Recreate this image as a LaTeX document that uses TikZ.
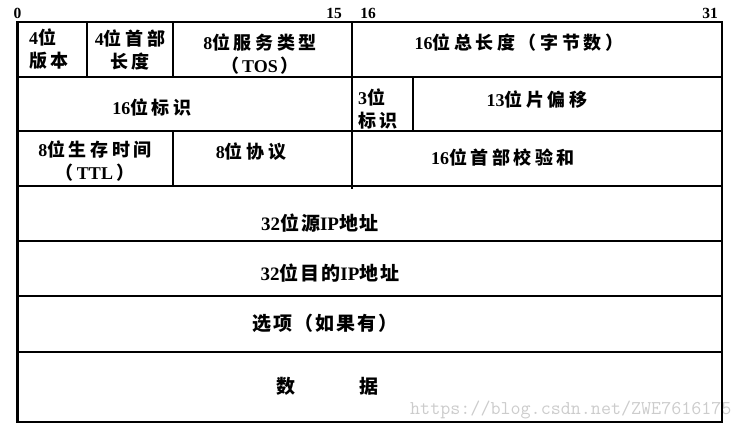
\documentclass[tikz,border=0pt]{standalone}
\usepackage{fontspec}
\setmainfont{Liberation Serif}
\newfontfamily\cjk{Noto Sans CJK SC}[LetterSpace=20]
\newfontfamily\cjkn{Noto Sans CJK SC}[LetterSpace=10]
\newfontfamily\lat{Liberation Serif}
\newcommand\LL[1]{{\lat #1}}
\begin{document}
\begin{tikzpicture}[x=1pt,y=-1pt,
  grid/.style={line width=2.5pt,draw=black},
  txt/.style={inner sep=0pt,align=center,font={\cjk\bfseries\fontsize{18}{23}\selectfont}},
  txtn/.style={inner sep=0pt,align=center,font={\cjkn\bfseries\fontsize{19}{23}\selectfont}},
  bitno/.style={inner sep=0pt,font={\lat\bfseries\fontsize{15.5}{15}\selectfont}},
  wmark/.style={inner sep=0pt,anchor=west,text=black!20,font={\ttfamily\fontsize{19.5}{19}\selectfont}}]
\useasboundingbox (0,0) rectangle (741,432);
% watermark (under the frame)
\node[wmark] (wm) at (410,410) {https://blog.csdn.net/ZWE7616175};
% frame and grid
\draw[grid] (17.5,22) rectangle (722,422);
\foreach \yy in {77,131,186,241,296,352} \draw[grid] (17.5,\yy) -- (722,\yy);
\draw[grid] (87,22) -- (87,77);
\draw[grid] (173,22) -- (173,77);
\draw[grid] (352,22) -- (352,189);
\draw[grid] (413,77) -- (413,131);
\draw[grid] (173,131) -- (173,186);
% bit numbers
\node[bitno] (b0) at (17.5,13) {0};
\node[bitno] (b15) at (334,13) {15};
\node[bitno] (b16) at (368,13) {16};
\node[bitno] (b31) at (710,13) {31};
% row 1
\node[txt,align=left,anchor=west] (ver) at (29,49.5) {\LL{4}位\\版本};
\node[txt] (ihl) at (130,49.5) {\LL{4}位首部\\长度};
\node[txt] (tos) at (260,54.5) {\LL{8}位服务类型\\（\,\LL{TOS}\,）};
\node[txt] (len) at (519,43) {\LL{16}位总长度（字节数）};
% row 2
\node[txt] (id) at (152,107) {\LL{16}位标识};
\node[txt,align=left,anchor=west] (flag) at (358,108.5) {\LL{3}位\\标识};
\node[txt] (off) at (537,100) {\LL{13}位片偏移};
% row 3
\node[txt] (ttl) at (95,161.5) {\LL{8}位生存时间\\（\,\LL{TTL}\,）};
\node[txt] (proto) at (251,152) {\LL{8}位协议};
\node[txt] (csum) at (503,157) {\LL{16}位首部校验和};
% rows 4-7
\node[txtn] (src) at (320,223) {\LL{32}位源\LL{IP}地址};
\node[txtn] (dst) at (330,273) {\LL{32}位目的\LL{IP}地址};
\node[txtn] (opt) at (325,323) {选项（如果有）};
\node[txtn] (data) at (327.5,386) {数\hspace{64pt}据};
\end{tikzpicture}
\end{document}
